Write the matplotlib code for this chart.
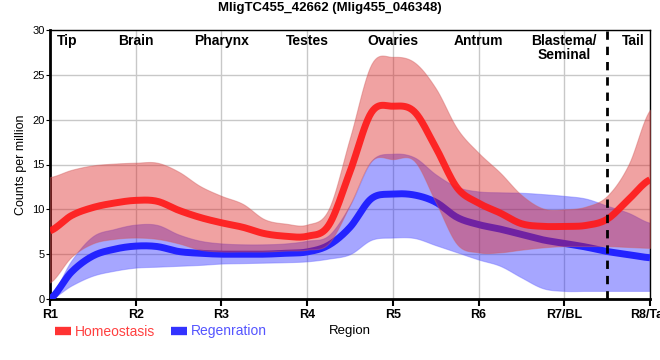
import matplotlib
matplotlib.use('Agg')
import matplotlib.pyplot as plt
from matplotlib.lines import Line2D
import numpy as np

##########################################################################
# Data (at quarter-region steps)
pos = [0, 0.25, 0.5, 0.75, 1, 1.25, 1.5, 1.75, 2, 2.25, 2.5, 2.75, 3, 3.25, 3.5,
       3.75, 4, 4.25, 4.5, 4.75, 5, 5.25, 5.5, 5.75, 6, 6.25, 6.5, 6.75, 7]

homeo_mean = [7.6, 9.3, 10.2, 10.7, 11.0, 10.9, 9.9, 9.1, 8.5, 8.0, 7.3, 7.0, 7.0, 8.2, 14.2,
              20.8, 21.5, 20.9, 16.9, 12.4, 10.7, 9.6, 8.4, 8.1, 8.1, 8.2, 8.9, 11.1, 13.3]
homeo_hi = [13.6, 14.4, 14.9, 15.1, 15.2, 15.2, 14.2, 12.6, 11.5, 10.6, 8.9, 8.4, 8.3, 10.0, 18.0,
            26.2, 27.0, 26.4, 23.5, 19.0, 16.3, 14.1, 11.6, 10.1, 10.0, 10.3, 11.5, 15.0, 21.1]
homeo_lo = [1.85, 4.7, 6.2, 6.7, 6.85, 6.7, 6.2, 5.5, 5.3, 5.3, 5.3, 5.4, 5.5, 6.2, 10.5,
            15.4, 15.6, 15.4, 10.8, 6.1, 5.2, 5.2, 5.5, 5.75, 5.9, 5.9, 5.9, 5.8, 5.7]

regen_mean = [0.0, 3.0, 4.8, 5.55, 5.9, 5.85, 5.3, 5.1, 5.0, 5.0, 5.0, 5.1, 5.25, 6.0, 8.0,
              11.2, 11.7, 11.6, 10.8, 9.1, 8.3, 7.8, 7.2, 6.6, 6.2, 5.8, 5.3, 4.95, 4.6]
regen_hi = [0.3, 4.3, 7.0, 7.8, 8.3, 8.26, 7.2, 6.5, 6.2, 6.1, 6.1, 6.2, 6.5, 7.1, 10.5,
            15.4, 16.2, 15.8, 13.9, 12.5, 12.0, 11.9, 11.85, 11.7, 11.5, 11.2, 10.4, 9.6, 8.5]
regen_lo = [0.0, 1.5, 2.6, 3.15, 3.5, 3.6, 3.7, 3.8, 3.95, 4.0, 4.05, 4.1, 4.2, 4.5, 5.0,
            6.6, 6.85, 6.8, 6.0, 5.2, 4.4, 3.7, 2.4, 1.2, 0.9, 0.9, 0.9, 0.9, 0.9]

regions = ['R1', 'R2', 'R3', 'R4', 'R5', 'R6', 'R7/BL', 'R8/Tail']
tissues = ['Tip', 'Brain', 'Pharynx', 'Testes', 'Ovaries', 'Antrum', 'Blastema/\nSeminal', 'Tail']
tissue_pos = [0.2, 1, 2, 3, 4, 5, 6, 6.8]


def smooth(x, y, n=12):
    # catmull-rom through the read points, only for drawing
    x = np.asarray(x, float)
    y = np.asarray(y, float)
    yp = np.r_[y[0], y, y[-1]]
    xs, ys = [], []
    s = np.linspace(0, 1, n, endpoint=False)
    for i in range(len(x) - 1):
        p0, p1, p2, p3 = yp[i], yp[i+1], yp[i+2], yp[i+3]
        v = 0.5 * ((2*p1) + (-p0 + p2)*s + (2*p0 - 5*p1 + 4*p2 - p3)*s**2 + (-p0 + 3*p1 - 3*p2 + p3)*s**3)
        xs.append(x[i] + (x[i+1] - x[i])*s)
        ys.append(v)
    xs.append([x[-1]])
    ys.append([y[-1]])
    return np.concatenate(xs), np.clip(np.concatenate(ys), 0, None)

##########################################################################
# Figure
plt.rcParams['font.family'] = ['Liberation Sans', 'DejaVu Sans']
fig = plt.figure(figsize=(6.6, 3.6), dpi=100)
ax = fig.add_axes([50/660, 1-299/360, 600/660, 269/360])

ax.set_xlim(0, 7)
ax.set_ylim(0, 30)
ax.set_xticks(range(8))
ax.set_xticklabels(regions, fontweight='bold', fontsize=9)
ax.set_yticks(range(0, 31, 5))
ax.tick_params(axis='y', labelsize=8, length=3, pad=1)
ax.tick_params(axis='x', length=5, width=1.5, pad=2)
ax.grid(True, color='#c8c8c8', lw=1)
ax.set_axisbelow(True)
for s in ['left', 'bottom']:
    ax.spines[s].set_linewidth(2)
for s in ['top', 'right']:
    ax.spines[s].set_linewidth(1)
ax.set_ylabel('Counts per million', fontsize=9, labelpad=4)
ax.set_xlabel('Region', fontsize=9.5, labelpad=3)

##########################################################################
# Bands and lines
xs, rlo = smooth(pos, regen_lo)
_, rhi = smooth(pos, regen_hi)
_, rm = smooth(pos, regen_mean)
_, hlo = smooth(pos, homeo_lo)
_, hhi = smooth(pos, homeo_hi)
_, hm = smooth(pos, homeo_mean)

ax.fill_between(xs, rlo, rhi, color='#2222ff', alpha=0.4, lw=0.8, edgecolor='#6666ff', zorder=2)
ax.plot(xs, rm, color='#2323ff', lw=5, solid_capstyle='butt', zorder=3)
ax.fill_between(xs, hlo, hhi, color='#dd2222', alpha=0.42, lw=0.8, edgecolor='#d06060', zorder=4)
ax.plot(xs, hm, color='#ff1a1a', lw=5, alpha=0.92, solid_capstyle='butt', zorder=5)

ax.axvline(6.5, color='black', lw=2, ls=(0, (3, 2.5)), zorder=6)

for t, name in zip(tissue_pos, tissues):
    ax.text(t, 29.6, name, ha='center', va='top', fontsize=10, fontweight='bold', linespacing=1.0)

fig.suptitle('MligTC455_42662 (Mlig455_046348)', fontsize=9.5, fontweight='bold', y=0.995)

##########################################################################
# Legend
handles = [Line2D([], [], color='#ff3333', lw=6, solid_capstyle='butt'),
           Line2D([], [], color='#3333ff', lw=6, solid_capstyle='butt')]
fig.legend(handles, ['Homeostasis', 'Regenration'], loc='lower left', bbox_to_anchor=(0.065, 0.025),
           ncol=2, frameon=False, fontsize=10, handlelength=1.15, handletextpad=0.25,
           columnspacing=1.15, labelcolor=['#ff4040', '#5555ff'])

fig.savefig('out.png', dpi=100)
plt.close(fig)
